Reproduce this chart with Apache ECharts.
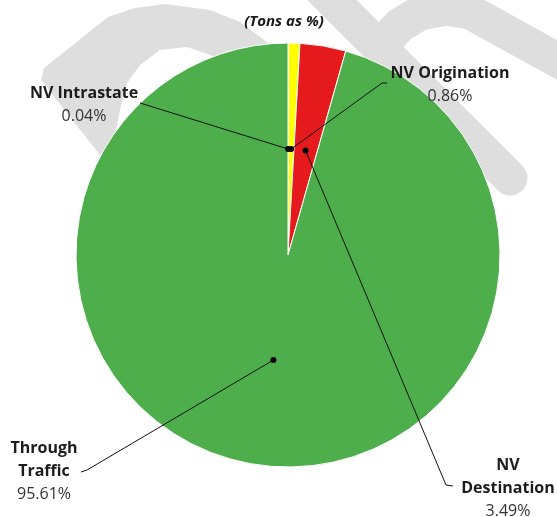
<!DOCTYPE html>
<html>
<head>
<meta charset="utf-8">
<script src="https://cdn.jsdelivr.net/npm/echarts@6/dist/echarts.min.js"></script>
<style>
html,body{margin:0;padding:0;background:#fff;}
#c{width:557px;height:517px;}
</style>
</head>
<body>
<div id="c"></div>
<script>
// ---- data ----
const categories = ['NV Intrastate', 'NV Origination', 'NV Destination', 'Through Traffic'];
const labelNameLines = [['NV Intrastate'], ['NV Origination'], ['NV', 'Destination'], ['Through', 'Traffic']];
const shares = [0.04, 0.86, 3.49, 95.61];
const chartTitle = '(Tons as %)';

// ---- style / layout ----
const sliceColors = ['#9e9e9e', '#ffff00', '#e41a1c', '#4eae4b'];
const FONT = "'Open Sans', sans-serif";
const CX = 288, CY = 255, R = 212;
const DOT_FRAC = 0.5;
const labelPlace = [
  { x: 84,  y: 82,  tail: [[140, 103]] },
  { x: 450, y: 62,  tail: [[382, 83], [387, 83]] },
  { x: 508, y: 454, tail: [[446, 485], [453, 486]] },
  { x: 44,  y: 437, tail: [[87, 470], [81, 472]] }
];

// dot positions in (radius fraction, cumulative % angle) derived from the shares
const total = shares.reduce((a, b) => a + b, 0);
let acc = 0;
const midPct = shares.map(v => { const m = acc + v / 2; acc += v; return m / total * 100; });
const dotData = midPct.map(m => [DOT_FRAC, m]);

const chart = echarts.init(document.getElementById('c'), null, { renderer: 'canvas' });
chart.setOption({
  animation: false,
  backgroundColor: '#fff',
  graphic: [
    { type: 'polygon', z: 0, silent: true,
      shape: { points: [[100,155],[41,80],[44,68],[108,17],[135,8],[165,4],[210,10],[240,22],[275,48],[262,72],[213,56],[187,47],[160,50],[140,65],[127,83],[121,105],[117,125],[112,152]] },
      style: { fill: '#dedede' } },
    { type: 'polyline', z: 0, silent: true,
      shape: { points: [[315,-17],[510,178]] },
      style: { stroke: '#dedede', lineWidth: 35, lineCap: 'round', fill: null } },
    { type: 'polyline', z: 0, silent: true,
      shape: { points: [[382,44],[400,25],[420,13],[445,8],[470,12],[590,78]] },
      style: { stroke: '#dedede', lineWidth: 35, lineCap: 'round', lineJoin: 'round', fill: null } },
    { type: 'text', z: 10, silent: true, x: 284, y: 21.5,
      style: { text: chartTitle, fill: '#1a1a1a', font: "italic bold 15px " + FONT, align: 'center', verticalAlign: 'middle' } }
  ],
  polar: { center: [CX, CY], radius: R },
  angleAxis: { type: 'value', min: 0, max: 100, startAngle: 90, clockwise: true, show: false },
  radiusAxis: { type: 'value', min: 0, max: 1, show: false },
  series: [
    {
      type: 'pie',
      center: [CX, CY],
      radius: R,
      startAngle: 90,
      clockwise: true,
      avoidLabelOverlap: false,
      silent: true,
      z: 2,
      itemStyle: { borderColor: '#ffffff', borderWidth: 1 },
      data: categories.map((c, i) => ({ name: c, value: shares[i], itemStyle: { color: sliceColors[i] } })),
      label: {
        show: true,
        position: 'outside',
        formatter: p => labelNameLines[p.dataIndex].map(s => '{n|' + s + '}').join('\n') + '\n{v|' + shares[p.dataIndex].toFixed(2) + '%}',
        rich: {
          n: { fontFamily: FONT, fontSize: 16, fontWeight: 'bold', color: '#1c1c1c', lineHeight: 23 },
          v: { fontFamily: FONT, fontSize: 16, color: '#333333', lineHeight: 23 }
        }
      },
      labelLine: { show: false },
      labelLayout: function (p) {
        const pl = labelPlace[p.dataIndex];
        return { x: pl.x, y: pl.y, align: 'center', verticalAlign: 'top' };
      }
    },
    {
      type: 'custom',
      coordinateSystem: 'polar',
      data: dotData,
      silent: true,
      z: 5,
      renderItem: function (params, api) {
        const i = params.dataIndex;
        const pt = api.coord([api.value(0), api.value(1)]);
        const pts = [pt].concat(labelPlace[i].tail);
        return {
          type: 'group',
          children: [
            { type: 'polyline', shape: { points: pts }, style: { stroke: '#111', lineWidth: 1, fill: null } },
            { type: 'circle', shape: { cx: pt[0], cy: pt[1], r: 3 }, style: { fill: '#000' } }
          ]
        };
      }
    }
  ]
});
</script>
</body>
</html>
